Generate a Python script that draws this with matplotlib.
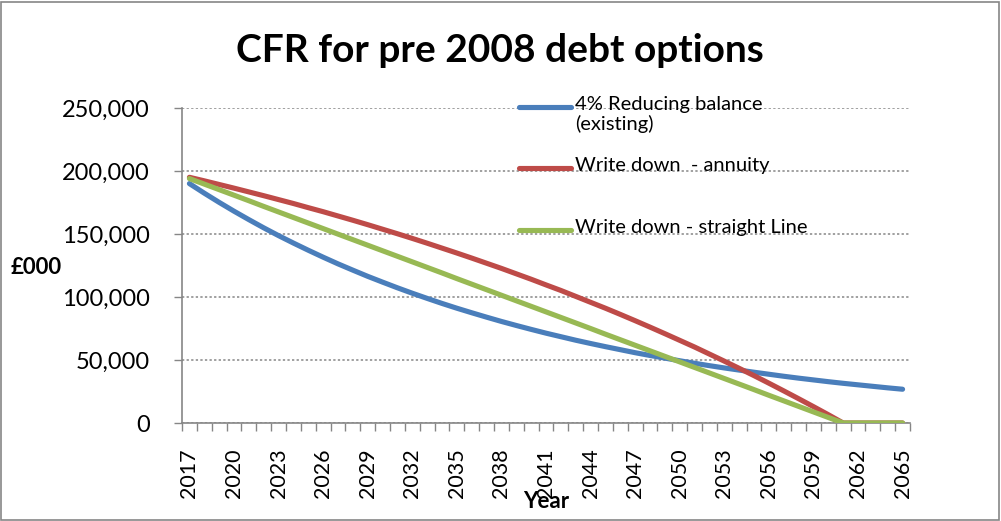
import numpy as np
import matplotlib
matplotlib.use("Agg")
from matplotlib import pyplot as plt
from matplotlib.patches import Rectangle
from matplotlib.ticker import FuncFormatter, MultipleLocator, FixedLocator

#-------------------------------------------------------------------
# Data (£000)
years = list(range(2017, 2066))

reducing_balance = [190.0, 182.4, 175.1, 168.1, 161.4, 154.9, 148.7, 142.8, 137.1, 131.6,
                    126.3, 121.3, 116.4, 111.8, 107.3, 103.0, 98.9, 94.9, 91.1, 87.5,
                    84.0, 80.6, 77.4, 74.3, 71.3, 68.5, 65.7, 63.1, 60.6, 58.2,
                    55.8, 53.6, 51.5, 49.4, 47.4, 45.5, 43.7, 42.0, 40.3, 38.7,
                    37.1, 35.6, 34.2, 32.8, 31.5, 30.3, 29.1, 27.9, 26.8]

annuity = [195.0, 192.2, 189.3, 186.4, 183.4, 180.4, 177.3, 174.2, 170.9, 167.7,
           164.3, 160.9, 157.4, 153.8, 150.2, 146.5, 142.7, 138.8, 134.9, 130.9,
           126.8, 122.7, 118.4, 114.1, 109.6, 105.2, 100.5, 95.8, 91.1, 86.2,
           81.2, 76.1, 70.9, 65.6, 60.3, 54.7, 49.1, 43.4, 37.6, 31.6,
           25.5, 19.3, 13.0, 6.6, 0.0, 0.0, 0.0, 0.0, 0.0]

straight_line = [194.0, 189.6, 185.2, 180.8, 176.4, 171.9, 167.5, 163.1, 158.7, 154.3,
                 149.9, 145.5, 141.1, 136.7, 132.3, 127.9, 123.5, 119.1, 114.6, 110.2,
                 105.8, 101.4, 97.0, 92.6, 88.2, 83.8, 79.4, 75.0, 70.5, 66.1,
                 61.7, 57.3, 52.9, 48.5, 44.1, 39.7, 35.3, 30.9, 26.5, 22.0,
                 17.6, 13.2, 8.8, 4.4, 0.0, 0.0, 0.0, 0.0, 0.0]

series = [
    ("4% Reducing balance\n(existing)", reducing_balance, "#4A7EBB"),
    ("Write down  - annuity", annuity, "#BE4B48"),
    ("Write down - straight Line", straight_line, "#98B954"),
]

#-------------------------------------------------------------------
# Plot
plt.rcParams['font.family'] = ['Lato', 'DejaVu Sans']
axis_grey = "#868686"

fig = plt.figure(figsize=(10.01, 5.21), dpi=100)
W, H = 1001, 521
ax = fig.add_axes([182 / W, 1 - 423 / H, (910 - 182) / W, (423 - 108) / H])

x = np.arange(len(years))
for label, vals, col in series:
    ax.plot(x, np.array(vals) * 1000, color=col, lw=3.7, solid_capstyle='round',
            solid_joinstyle='round', zorder=3)

ax.set_xlim(-0.5, len(years) - 0.5)
ax.set_ylim(0, 250000)

# category axis: ticks between categories, labels every 3 years
ax.xaxis.set_major_locator(FixedLocator(x[::3]))
ax.set_xticklabels([str(y) for y in years[::3]], rotation=90)
ax.xaxis.set_minor_locator(FixedLocator(np.arange(-0.5, len(years), 1.0)))
ax.tick_params(axis='x', which='major', length=0, pad=18, labelsize=15.5)
ax.tick_params(axis='x', which='minor', length=6, width=1, color=axis_grey)

ax.yaxis.set_major_locator(MultipleLocator(50000))
ax.yaxis.set_major_formatter(FuncFormatter(lambda v, p: f"{int(v):,}"))
ax.tick_params(axis='y', length=6, width=1, color=axis_grey, pad=17, labelsize=17)

ax.grid(axis='y', color=axis_grey, linestyle=(0, (1.5, 1.5)), linewidth=1.1)
ax.set_axisbelow(True)

for s in ['top', 'right']:
    ax.spines[s].set_visible(False)
for s in ['left', 'bottom']:
    ax.spines[s].set_color(axis_grey)
    ax.spines[s].set_linewidth(1.2)

fig.text(500 / W, 1 - 50 / H, "CFR for pre 2008 debt options", ha='center', va='center',
         fontsize=28, weight='bold')
fig.text(36 / W, 1 - 268 / H, "£000", ha='center', va='center', fontsize=16, weight='bold')
fig.text(546 / W, 1 - 502 / H, "Year", ha='center', va='center', fontsize=16, weight='bold')

# legend
legend_rows = [107, 168, 230]
for (label, vals, col), yy in zip(series, legend_rows):
    fy = 1 - yy / H
    fig.add_artist(plt.Line2D([519 / W, 571 / W], [fy, fy], color=col, lw=3.7,
                              solid_capstyle='round'))
    fig.text(575 / W, fy + 11 / H, label, ha='left', va='top', fontsize=14.5,
             linespacing=1.1)

# chart border
fig.add_artist(Rectangle((1 / W, 1 / H), (W - 3) / W, (H - 3) / H, transform=fig.transFigure,
                         fill=False, edgecolor=axis_grey, lw=1.2))

plt.savefig("out.png", dpi=100)
